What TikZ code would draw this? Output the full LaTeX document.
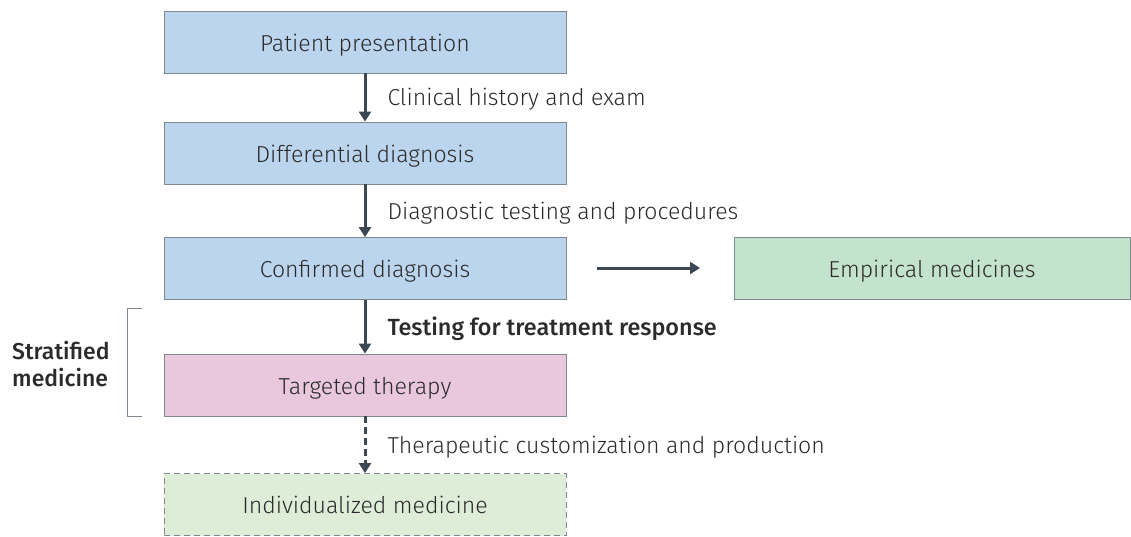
\documentclass[tikz,border=0pt]{standalone}
\usepackage{fontspec}
\setmainfont{Fira Sans}[UprightFont={* Light}, BoldFont={* Medium}]
\usetikzlibrary{arrows.meta}
\definecolor{boxblue}{HTML}{BCD5EE}
\definecolor{boxgreen}{HTML}{C4E3CD}
\definecolor{boxpink}{HTML}{E9C8DE}
\definecolor{boxpale}{HTML}{DDEDD8}
\definecolor{edgegray}{HTML}{7D8893}
\definecolor{arrowcol}{HTML}{3B4853}
\definecolor{txt}{HTML}{2B2B2B}
\tikzset{
  box/.style={draw=edgegray, line width=0.8pt, minimum width=402pt, minimum height=62pt, inner sep=0pt, text height=19pt, text depth=1pt, text=txt, font=\fontsize{23.1}{26}\selectfont},
  flow/.style={draw=arrowcol, line width=3pt, -{Triangle[width=12pt,length=10pt]}},
  lbl/.style={anchor=west, text=txt, font=\fontsize{23.1}{26}\selectfont, inner sep=0pt, yshift=-2pt},
}
\begin{document}
\begin{tikzpicture}[x=1pt,y=-1pt]
\useasboundingbox (0,0) rectangle (1131,536);
\node[box, fill=boxblue] (pp) at (365,42) {Patient presentation};
\node[box, fill=boxblue] (dd) at (365,153) {Differential diagnosis};
\node[box, fill=boxblue] (cd) at (365,268.5) {Confirmed diagnosis};
\node[box, fill=boxgreen, minimum width=396pt] (em) at (932,268.5) {Empirical medicines};
\node[box, fill=boxpink] (tt) at (365,385) {Targeted therapy};
\node[box, fill=boxpale, dashed, dash pattern=on 6pt off 4pt] (im) at (365,504.5) {Individualized medicine};
\coordinate (a1) at (597,268);
\coordinate (a2) at (700,268);
\draw[flow] (pp.south) -- (dd.north) node[lbl, midway, xshift=21pt] (l1) {Clinical history and exam};
\draw[flow] (dd.south) -- (cd.north) node[lbl, midway, xshift=21pt] (l2) {Diagnostic testing and procedures};
\draw[flow] (cd.south) -- (tt.north) node[lbl, midway, xshift=21pt, font=\fontsize{23.4}{26}\selectfont\bfseries] (l3) {Testing for treatment response};
\draw[flow, dash pattern=on 7pt off 4pt] (tt.south) -- (im.north) node[lbl, midway, xshift=21pt] (l4) {Therapeutic customization and production};
\draw[flow] (a1) -- (a2);
\draw[edgegray, line width=0.8pt] (142,308) -- (127,308) -- (127,416) -- (142,416);
\node[anchor=west, align=left, text=txt, font=\fontsize{23}{27}\selectfont\bfseries, inner sep=0pt] (sm) at (12,364) {Stratified\\medicine};
\end{tikzpicture}
\end{document}
